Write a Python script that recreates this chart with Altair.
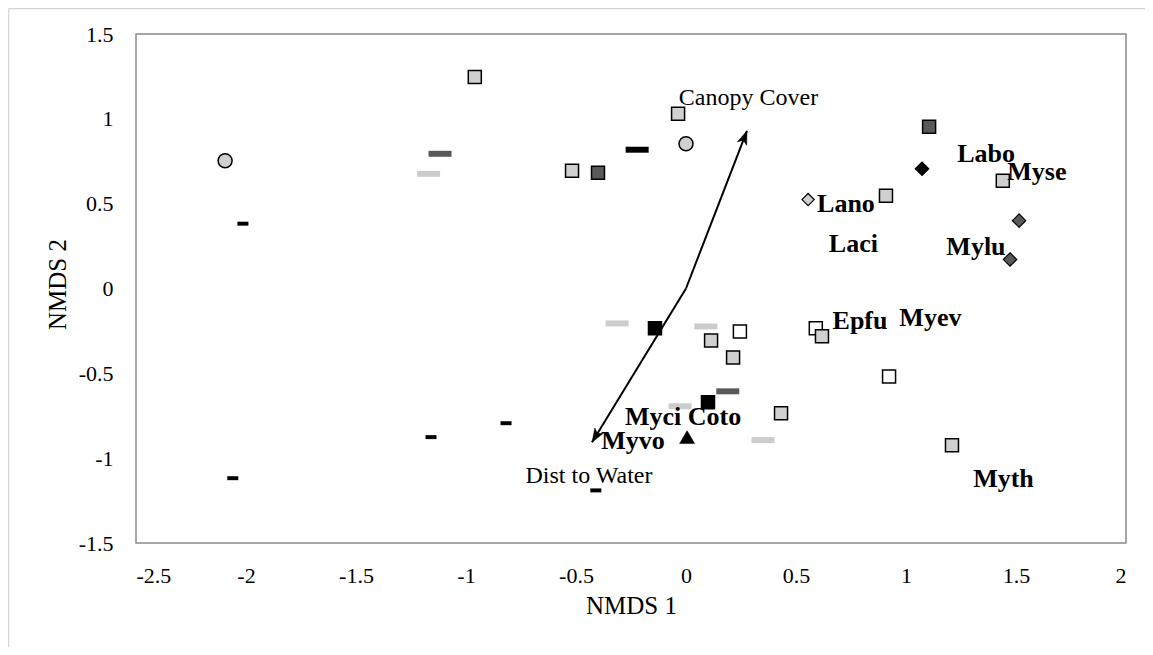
import math
import altair as alt
import pandas as pd

# ---------------- data ----------------
# site scores grouped by marker style
grp_circle_lgray_x = [-2.095, 0.0]
grp_circle_lgray_y = [0.753, 0.853]

grp_square_lgray_x = [-0.96, -0.036, -0.518, 0.909, 1.44, 0.618, 0.114, 0.214, 0.432, 1.209]
grp_square_lgray_y = [1.247, 1.03, 0.694, 0.547, 0.635, -0.282, -0.306, -0.406, -0.735, -0.924]

grp_square_white_x = [0.245, 0.59, 0.923]
grp_square_white_y = [-0.253, -0.235, -0.518]

grp_square_dgray_x = [-0.4, 1.105]
grp_square_dgray_y = [0.682, 0.953]

grp_square_black_x = [-0.141, 0.1]
grp_square_black_y = [-0.235, -0.67]

grp_triangle_black_x = [0.005]
grp_triangle_black_y = [-0.876]

grp_diamond_lgray_x = [0.555]
grp_diamond_lgray_y = [0.524]

grp_diamond_black_x = [1.073]
grp_diamond_black_y = [0.706]

grp_diamond_dgray_x = [1.514, 1.473]
grp_diamond_dgray_y = [0.4, 0.171]

grp_dash_dgray_x = [-1.118, 0.19]
grp_dash_dgray_y = [0.794, -0.606]

grp_dash_lgray_x = [-1.17, -0.313, 0.09, -0.027, 0.35]
grp_dash_lgray_y = [0.676, -0.206, -0.224, -0.694, -0.894]

grp_dash_black_x = [-0.222]
grp_dash_black_y = [0.818]

grp_dash_small_x = [-2.014, -2.06, -1.159, -0.818, -0.41]
grp_dash_small_y = [0.382, -1.118, -0.876, -0.794, -1.19]

# species labels
sp_names = ["Labo", "Myse", "Lano", "Laci", "Mylu", "Epfu", "Myev", "Myth", "Myci Coto", "Myvo"]
sp_x = [1.364, 1.595, 0.727, 0.761, 1.318, 0.791, 1.111, 1.443, -0.013, -0.241]
sp_y = [0.794, 0.688, 0.5, 0.265, 0.247, -0.194, -0.171, -1.124, -0.755, -0.9]

# environmental vectors
vec_names = ["Canopy Cover", "Dist to Water"]
vec_x = [0.277, -0.427]
vec_y = [0.929, -0.906]
vec_label_x = [0.284, -0.441]
vec_label_y = [1.124, -1.105]

x_ticks = [-2.5, -2, -1.5, -1, -0.5, 0, 0.5, 1, 1.5, 2]
y_ticks = [-1.5, -1, -0.5, 0, 0.5, 1, 1.5]

# ---------------- tables ----------------
WIDE = "M-1,-0.26H1V0.26H-1Z"
SMALL = "M-1,-0.36H1V0.36H-1Z"
LG, DG, DASHLG = "#d0d0d0", "#595959", "#cccccc"
groups = [
    # name, xs, ys, shape, fill, stroke, size, strokeWidth
    ("dash_dgray", grp_dash_dgray_x, grp_dash_dgray_y, WIDE, DG, DG, 529, 0),
    ("dash_lgray", grp_dash_lgray_x, grp_dash_lgray_y, WIDE, DASHLG, DASHLG, 529, 0),
    ("dash_black", grp_dash_black_x, grp_dash_black_y, WIDE, "black", "black", 529, 0),
    ("dash_small", grp_dash_small_x, grp_dash_small_y, SMALL, "black", "black", 121, 0),
    ("circle_lgray", grp_circle_lgray_x, grp_circle_lgray_y, "circle", LG, "black", 196, 1.5),
    ("square_white", grp_square_white_x, grp_square_white_y, "square", "white", "black", 169, 1.5),
    ("square_lgray", grp_square_lgray_x, grp_square_lgray_y, "square", LG, "black", 169, 1.5),
    ("square_dgray", grp_square_dgray_x, grp_square_dgray_y, "square", DG, "black", 169, 1.5),
    ("square_black", grp_square_black_x, grp_square_black_y, "square", "black", "black", 169, 1.5),
    ("triangle_black", grp_triangle_black_x, grp_triangle_black_y, "triangle-up", "black", "black", 225, 0.5),
    ("diamond_lgray", grp_diamond_lgray_x, grp_diamond_lgray_y, "diamond", LG, "black", 150, 1.2),
    ("diamond_black", grp_diamond_black_x, grp_diamond_black_y, "diamond", "black", "black", 180, 1.2),
    ("diamond_dgray", grp_diamond_dgray_x, grp_diamond_dgray_y, "diamond", DG, "black", 180, 1.2),
]
rows = []
order = 0
for g, gx, gy, shp, fl, st, sz, sw in groups:
    for a, b in zip(gx, gy):
        rows.append({"x": a, "y": b, "g": g, "shp": shp, "fl": fl, "st": st,
                     "sz": sz, "sw": sw, "o": order})
        order += 1
pts = pd.DataFrame(rows)

W, H = 990, 509
kx, ky = W / 4.5, H / 3.0
vec = pd.DataFrame({
    "name": vec_names, "x0": [0.0, 0.0], "y0": [0.0, 0.0], "x": vec_x, "y": vec_y,
    "ang": [(math.degrees(math.atan2(a * kx, b * ky)) + 360) % 360 for a, b in zip(vec_x, vec_y)],
})
vlab = pd.DataFrame({"name": vec_names, "x": vec_label_x, "y": vec_label_y})
sp = pd.DataFrame({"name": sp_names, "x": sp_x, "y": sp_y})

FONT = "Liberation Serif"
xs = alt.Scale(domain=[-2.5, 2], nice=False, zero=False)
ys = alt.Scale(domain=[-1.5, 1.5], nice=False, zero=False)
X = alt.X("x:Q", scale=xs, axis=alt.Axis(
    values=x_ticks, title="NMDS 1", grid=False, ticks=False, tickSize=0, domain=False,
    labelExpr="'' + datum.value", labelFont=FONT, labelFontSize=22, labelColor="black",
    labelPadding=22, titleFont=FONT, titleFontSize=25, titleFontWeight="normal",
    titleColor="black", titleY=70, titleBaseline="alphabetic"))
Y = alt.Y("y:Q", scale=ys, axis=alt.Axis(
    values=y_ticks, title="NMDS 2", grid=False, ticks=False, tickSize=0, domain=False,
    labelExpr="'' + datum.value", labelFont=FONT, labelFontSize=22, labelColor="black",
    labelPadding=23, titleFont=FONT, titleFontSize=25, titleFontWeight="normal",
    titleColor="black", titleX=-71, titleY=250, titleBaseline="alphabetic"))

# light outer chart-area border (as close to the page corner as the page margin allows)
one = pd.DataFrame({"a": [0]})
border_left = alt.Chart(one).mark_rule(color="#d4d4d4", strokeWidth=1.2).encode(
    x=alt.value(-127.3), y=alt.value(-25.3), y2=alt.value(640))
border_top = alt.Chart(one).mark_rule(color="#d4d4d4", strokeWidth=1.2).encode(
    x=alt.value(-127.3), x2=alt.value(1030), y=alt.value(-25.3))

points = alt.Chart(pts).mark_point(filled=True, opacity=1).encode(
    x=X, y=Y,
    shape=alt.Shape("shp:N", scale=None),
    fill=alt.Fill("fl:N", scale=None),
    stroke=alt.Stroke("st:N", scale=None),
    size=alt.Size("sz:Q", scale=None),
    strokeWidth=alt.StrokeWidth("sw:Q", scale=None),
    order=alt.Order("o:Q"),
)

lines = alt.Chart(vec).mark_rule(color="black", strokeWidth=2).encode(
    x=alt.X("x0:Q", scale=xs), y=alt.Y("y0:Q", scale=ys), x2="x:Q", y2="y:Q")

heads = alt.Chart(vec).mark_point(
    shape="M0,0L0.55,1.5L0,1.12L-0.55,1.5Z", filled=True, fill="black", stroke="black",
    strokeWidth=0.5, size=324, opacity=1
).encode(x=alt.X("x:Q", scale=xs), y=alt.Y("y:Q", scale=ys), angle=alt.Angle("ang:Q", scale=None))

vec_text = alt.Chart(vlab).mark_text(font=FONT, fontSize=24, color="black", align="center", baseline="middle").encode(
    x=alt.X("x:Q", scale=xs), y=alt.Y("y:Q", scale=ys), text="name:N")

sp_text = alt.Chart(sp).mark_text(font=FONT, fontSize=26, fontWeight="bold", color="black",
                                  align="center", baseline="middle").encode(
    x=alt.X("x:Q", scale=xs), y=alt.Y("y:Q", scale=ys), text="name:N")

chart = alt.layer(border_left, border_top, points, lines, heads, vec_text, sp_text).properties(
    width=W, height=H,
    autosize=alt.AutoSizeParams(type="none"),
    padding={"left": 128, "top": 26, "right": 19, "bottom": 104},
    background="white",
).configure_view(stroke="#8a8a8a", strokeWidth=1.5)

chart.save("out.html", embed_options={"renderer": "svg", "actions": False})
